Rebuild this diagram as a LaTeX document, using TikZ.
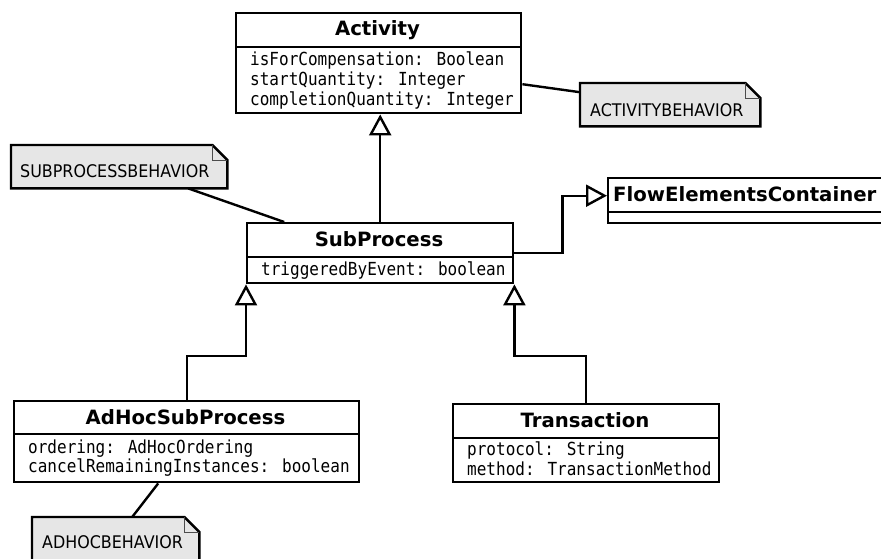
\documentclass[tikz,border=0pt]{standalone}
\usepackage{fontspec}
\usetikzlibrary{arrows.meta,calc}
\newfontfamily\classtitlefont{DejaVu Sans}
\newfontfamily\attrfont{DejaVu Sans Mono}[FakeStretch=0.89]
\newfontfamily\notefont{DejaVu Sans}[FakeStretch=0.915]
\definecolor{notegray}{HTML}{E6E6E6}

\tikzset{
  umlbox/.style={draw, line width=2.4pt, inner sep=0pt, anchor=north west, fill=white},
  sepline/.style={line width=2.4pt},
  ctitle/.style={anchor=base, inner sep=0pt, font=\classtitlefont\bfseries\fontsize{19.7pt}{22pt}\selectfont},
  cattr/.style={anchor=base west, inner sep=0pt, font=\attrfont\fontsize{18pt}{20pt}\selectfont},
  notebody/.style={inner sep=0pt, anchor=north west},
  notetext/.style={anchor=base west, inner sep=0pt, font=\notefont\fontsize{17.4pt}{20pt}\selectfont},
  noteborder/.style={draw=black, fill=notegray, line width=2.4pt, line join=miter},
  foldline/.style={draw=black!70, line width=0.8pt},
  gen/.style={line width=2.4pt, -{Triangle[open, length=21pt, width=22pt, line width=2.4pt]}},
  link/.style={line width=2.4pt}
}

% dog-eared comment box drawn around an empty named node
\newcommand\dogear[1]{%
  \path[noteborder] (#1.north west) -- ([xshift=-15pt]#1.north east)
    -- ([yshift=-15pt]#1.north east) -- (#1.south east) -- (#1.south west) -- cycle;
  \draw[foldline] ([xshift=-15pt]#1.north east) |- ([yshift=-15pt]#1.north east);
}

\begin{document}
\begin{tikzpicture}[x=1pt, y=-1pt]
\useasboundingbox (0,0) rectangle (881,558);
\clip (0,0) rectangle (881,558);

% ---- Activity ----
\node[umlbox, minimum width=285pt, minimum height=100pt] (act) at (235,12) {};
\draw[sepline] (act.west |- 0,47) -- (act.east |- 0,47);
\node[ctitle] (act-t) at (377.5,35.7) {Activity};
\node[cattr] (act-a1) at (250,65.3) {isForCompensation: Boolean};
\node[cattr] (act-a2) at (250,85.3) {startQuantity: Integer};
\node[cattr] (act-a3) at (250,105.3) {completionQuantity: Integer};

% ---- SubProcess ----
\node[umlbox, minimum width=266pt, minimum height=60pt] (sub) at (246,222) {};
\draw[sepline] (sub.west |- 0,257) -- (sub.east |- 0,257);
\node[ctitle] (sub-t) at (379,246.7) {SubProcess};
\node[cattr] (sub-a1) at (261,275) {triggeredByEvent: boolean};

% ---- FlowElementsContainer ----
\node[umlbox, minimum width=300pt, minimum height=45pt] (fec) at (607,177) {};
\draw[sepline] (fec.west |- 0,212) -- (fec.east |- 0,212);
\node[ctitle, anchor=base west] (fec-t) at (613,201.7) {FlowElementsContainer};

% ---- AdHocSubProcess ----
\node[umlbox, minimum width=345pt, minimum height=81pt] (ahs) at (13,400) {};
\draw[sepline] (ahs.west |- 0,434) -- (ahs.east |- 0,434);
\node[ctitle] (ahs-t) at (185.5,424.2) {AdHocSubProcess};
\node[cattr] (ahs-a1) at (28,453.3) {ordering: AdHocOrdering};
\node[cattr] (ahs-a2) at (28,472.9) {cancelRemainingInstances: boolean};

% ---- Transaction ----
\node[umlbox, minimum width=266pt, minimum height=78pt] (trn) at (452,403) {};
\draw[sepline] (trn.west |- 0,438) -- (trn.east |- 0,438);
\node[ctitle] (trn-t) at (585,427.7) {Transaction};
\node[cattr] (trn-a1) at (467,455.7) {protocol: String};
\node[cattr] (trn-a2) at (467,475) {method: TransactionMethod};

% ---- comment boxes ----
\node[notebody, minimum width=180pt, minimum height=43pt] (anote) at (580,83) {};
\dogear{anote}
\node[notetext] (anote-t) at (590,116) {ACTIVITYBEHAVIOR};

\node[notebody, minimum width=216pt, minimum height=43pt] (snote) at (11,145) {};
\dogear{snote}
\node[notetext] (snote-t) at (20,177.3) {SUBPROCESSBEHAVIOR};

\node[notebody, minimum width=167pt, minimum height=58pt] (adnote) at (32,517) {};
\dogear{adnote}
\node[notetext] (adnote-t) at (42,548.3) {ADHOCBEHAVIOR};

% ---- generalizations ----
\draw[gen] (sub.north) -- (sub.north |- act.south);
\draw[gen] (sub.east) -- ++(48,0) |- ([yshift=5pt]fec.west);
\draw[gen] (ahs.north) -- (ahs.north |- 0,356) -| (sub.south west);
\draw[gen] (trn.north) -- (trn.north |- 0,356) -| (sub.south east);

% ---- comment links ----
\draw[link] ([yshift=-21pt]act.east) -- ([yshift=12.5pt]anote.west);
\draw[link] ([xshift=69pt]snote.south) -- ([xshift=-96pt]sub.north);
\draw[link] ([xshift=-28.5pt]ahs.south) -- ([xshift=16.5pt]adnote.north);
\end{tikzpicture}
\end{document}
